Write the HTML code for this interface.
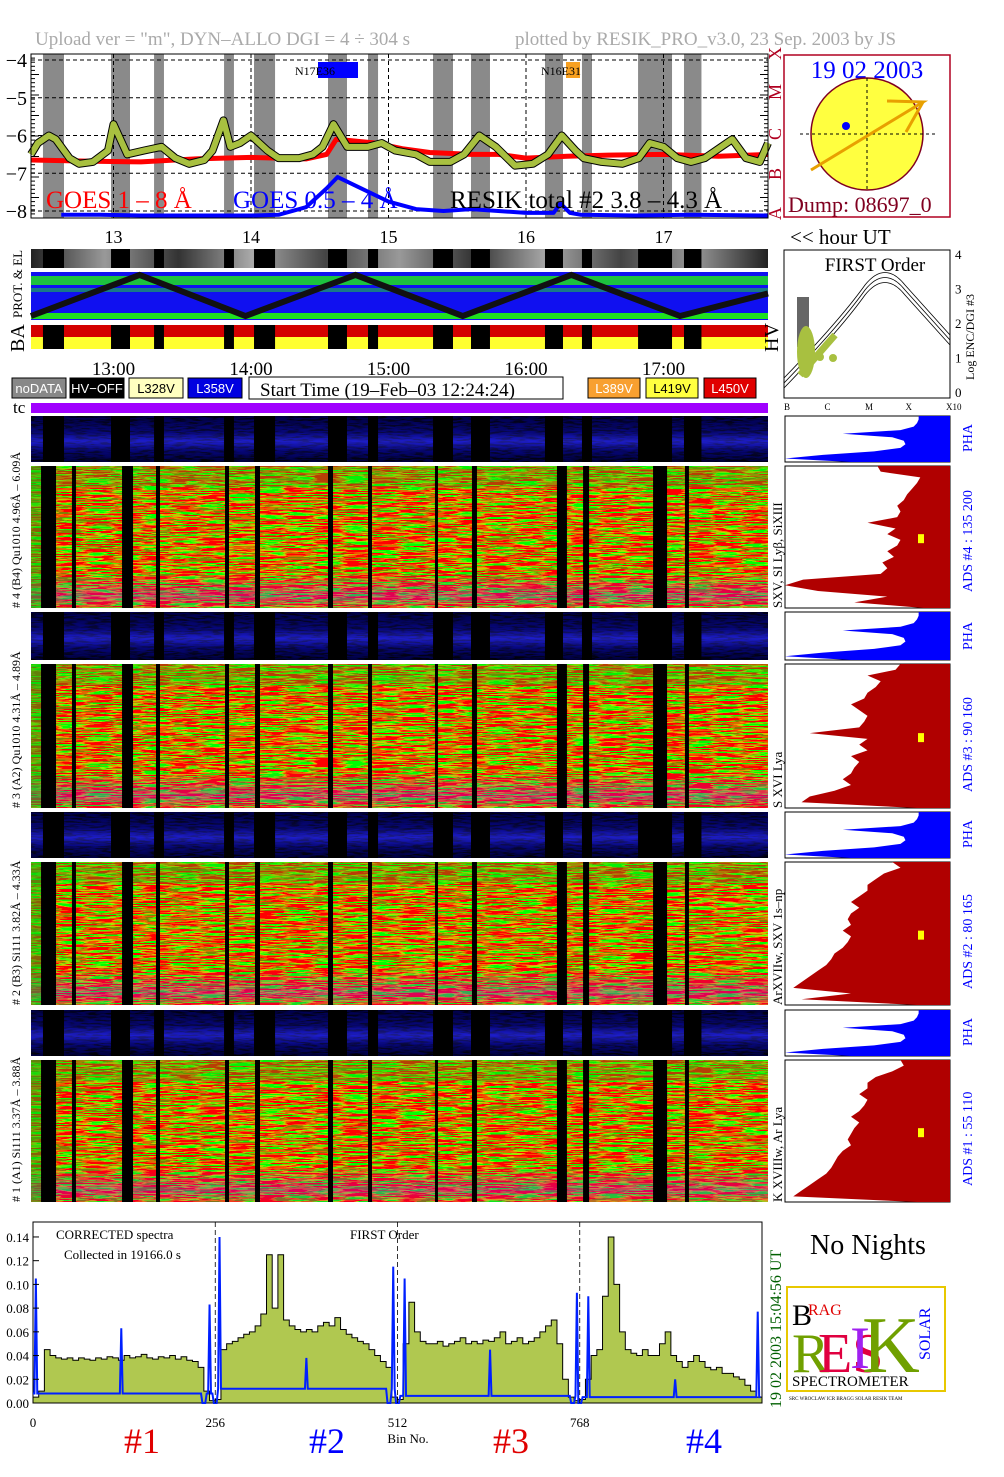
<!DOCTYPE html>
<html><head><meta charset="utf-8"><style>
html,body{margin:0;padding:0;background:#fff}
svg{display:block;font-family:"Liberation Serif",serif}
</style></head><body>
<svg id="s" width="1004" height="1477" viewBox="0 0 1004 1477" xmlns="http://www.w3.org/2000/svg">
<defs>
<filter id="rg" x="0" y="0" width="100%" height="100%">
<feTurbulence type="fractalNoise" baseFrequency="0.035 0.9" numOctaves="2" seed="3"/>
<feColorMatrix type="matrix" values="9 0 0 0 -3.6  -9 0 0 0 4.8  0 0 0 0 0  0 0 0 0 1"/>
</filter>
<filter id="pg" x="0" y="0" width="100%" height="100%">
<feTurbulence type="fractalNoise" baseFrequency="0.08 0.6" numOctaves="2" seed="7"/>
<feColorMatrix type="matrix" values="0 0 0 0 0  0 0 0 0 0  4 0 0 0 -1.6  0 0 0 0 1"/>
</filter>
<linearGradient id="pha" x1="0" y1="0" x2="0" y2="1">
<stop offset="0" stop-color="#000010"/><stop offset="0.35" stop-color="#0a0a50"/><stop offset="0.55" stop-color="#2828c0"/><stop offset="0.75" stop-color="#0a0a50"/><stop offset="1" stop-color="#000"/>
</linearGradient>
<linearGradient id="purp" x1="0" y1="0" x2="0" y2="1">
<stop offset="0" stop-color="#a000ff" stop-opacity="0"/><stop offset="0.75" stop-color="#a000ff" stop-opacity="0"/><stop offset="0.92" stop-color="#a000ff" stop-opacity="0.35"/><stop offset="1" stop-color="#a000ff" stop-opacity="0.1"/>
</linearGradient>
<linearGradient id="gstrip" x1="0" y1="0" x2="1" y2="0">
<stop offset="0" stop-color="#222"/><stop offset="0.1" stop-color="#999"/><stop offset="0.2" stop-color="#333"/><stop offset="0.3" stop-color="#aaa"/><stop offset="0.4" stop-color="#444"/><stop offset="0.5" stop-color="#999"/><stop offset="0.6" stop-color="#333"/><stop offset="0.7" stop-color="#aaa"/><stop offset="0.8" stop-color="#444"/><stop offset="0.9" stop-color="#999"/><stop offset="1" stop-color="#222"/>
</linearGradient>
</defs>

<text x="35" y="45" font-size="19" fill="#aaa">Upload ver = "m", DYN–ALLO DGI =   4 ÷ 304 s</text>
<text x="515" y="45" font-size="19" fill="#aaa">plotted by RESIK_PRO_v3.0, 23 Sep. 2003 by JS</text>

<g id="topg"></g>
<g id="mid"></g>
<g id="heat"></g>
<g id="right"></g>
<g id="bot"></g>
</svg>
<script>
const NS="http://www.w3.org/2000/svg";
function E(p,t,a,txt){const e=document.createElementNS(NS,t);for(const k in a)e.setAttribute(k,a[k]);if(txt!==undefined)e.textContent=txt;p.appendChild(e);return e;}
const topG=document.getElementById('topg'),mid=document.getElementById('mid'),heat=document.getElementById('heat'),rightG=document.getElementById('right'),bot=document.getElementById('bot');

// ---------- TOP PANEL DATA ----------
const nightStart=[12.487,12.982,13.295,13.804,14.022,14.56,14.851,15.324,15.6,16.138,16.407,16.815,17.149];
const nightEnd  =[12.64,13.12,13.367,13.876,14.175,14.698,14.924,15.469,15.738,16.269,16.48,17.062,17.276];
const goesLongT=[12.4,12.8,13.2,13.6,14.0,14.4,14.55,14.62,14.9,15.1,15.3,15.6,15.8,16.0,16.3,16.6,17.0,17.4,17.76];
const goesLongV=[-6.65,-6.68,-6.7,-6.62,-6.58,-6.62,-6.5,-6.1,-6.2,-6.35,-6.45,-6.5,-6.5,-6.6,-6.55,-6.52,-6.5,-6.55,-6.5];
const goesShortT=[12.62,12.9,13.2,13.5,14.0,14.2,14.4,14.55,14.63,14.8,15.0,15.2,15.4,15.6,16.0,16.2,16.25,16.32,16.4,16.8,17.2,17.76];
const goesShortV=[-8.1,-8.1,-8.12,-8.12,-8.12,-8.1,-7.9,-7.4,-7.1,-7.4,-7.75,-7.95,-8.0,-7.95,-8.05,-8.05,-7.8,-8.05,-8.1,-8.12,-8.1,-8.12];
const resikT=[12.4,12.45,12.53,12.58,12.68,12.75,12.85,12.96,13.0,13.1,13.22,13.35,13.45,13.55,13.66,13.72,13.8,13.85,13.92,14.0,14.12,14.2,14.35,14.45,14.52,14.6,14.7,14.85,14.95,15.05,15.2,15.3,15.45,15.55,15.66,15.78,15.92,16.05,16.16,16.26,16.36,16.42,16.55,16.7,16.82,16.9,17.0,17.1,17.2,17.3,17.42,17.5,17.6,17.7,17.76];
const resikV=[-6.5,-6.2,-6.0,-6.1,-6.6,-6.75,-6.7,-6.4,-5.7,-6.5,-6.4,-6.3,-6.6,-6.75,-6.65,-6.4,-5.6,-6.3,-6.2,-6.0,-6.4,-6.6,-6.6,-6.5,-6.3,-5.7,-6.3,-6.3,-6.2,-6.4,-6.5,-6.7,-6.7,-6.5,-6.0,-6.3,-6.8,-6.75,-6.5,-6.0,-6.4,-6.6,-6.7,-6.75,-6.6,-6.2,-6.3,-6.6,-6.7,-6.6,-6.3,-6.1,-6.6,-6.7,-6.2];
const decTicks=[-4,-5,-6,-7,-8];
const hourTicks=[13,14,15,16,17];

const X0=31,X1=768;
const xT=h=>X0+(h-12.4)*137.5;
const yT=v=>60+(-4-v)*37.75;
{
 E(topG,'rect',{x:X0,y:54,width:X1-X0,height:164,fill:'#fff'});
 for(let i=0;i<nightStart.length;i++){
  const b=E(topG,'rect',{x:xT(nightStart[i]),y:54,width:xT(nightEnd[i])-xT(nightStart[i]),height:164,fill:'#8a8a8a'});
  
  
 }
 decTicks.forEach(v=>{
  E(topG,'line',{x1:X0,x2:X1,y1:yT(v),y2:yT(v),stroke:'#000','stroke-dasharray':'4,3','stroke-width':1});
  const t=E(topG,'text',{x:27,y:yT(v)+7,'font-size':20,'text-anchor':'end'},'−'+Math.abs(v));
  
  
 });
 hourTicks.forEach(h=>{
  E(topG,'line',{x1:xT(h),x2:xT(h),y1:54,y2:218,stroke:'#000','stroke-dasharray':'4,3'});
  const t=E(topG,'text',{x:xT(h),y:243,'font-size':18,'text-anchor':'middle'},String(h));
  
  
 });
 for(let i=0;i<40;i++){E(topG,'line',{x1:X0,x2:X0+(i%5?4:8),y1:54+i*4.1,y2:54+i*4.1,stroke:'#000'});E(topG,'line',{x1:X1,x2:X1-(i%5?4:8),y1:54+i*4.1,y2:54+i*4.1,stroke:'#000'});}
 const line=(T,V,c,w,n)=>{const p=E(topG,'polyline',{points:T.map((t,i)=>xT(t)+','+yT(V[i])).join(' '),fill:'none',stroke:c,'stroke-width':w,'stroke-linejoin':'round'});
  
  };
 line(goesLongT,goesLongV,'#f00',5,'goes-1-8-line');
 line(goesShortT,goesShortV,'#0000ff',4,'goes-05-4-line');
 line(resikT,resikV,'#000',8,'resik-outline');
 line(resikT,resikV,'#a8c040',6,'resik-total-line');
 E(topG,'rect',{x:X0,y:54,width:X1-X0,height:164,fill:'none',stroke:'#000'});
 E(topG,'rect',{x:318,y:62,width:40,height:16,fill:'#0000ff'});
 E(topG,'text',{x:295,y:75,'font-size':12},'N17E36');
 E(topG,'rect',{x:566,y:62,width:14,height:16,fill:'#f8a020'});
 E(topG,'text',{x:541,y:75,'font-size':12},'N16E31');
 let t1=E(topG,'text',{x:46,y:208,'font-size':25,fill:'#f00'},'GOES 1 – 8 Å');
 
 let t2=E(topG,'text',{x:233,y:208,'font-size':25,fill:'#0000ff'},'GOES 0.5 – 4 Å');
 
 let t3=E(topG,'text',{x:450,y:208,'font-size':25},'RESIK total #2  3.8 – 4.3 Å');
 
 E(topG,'text',{x:790,y:244,'font-size':21},'<< hour UT');
}

// ---------- MID STRIPS ----------
const zigT=[12.4,13.19,13.96,14.76,15.54,16.33,17.12,17.76];
const zigLevel=[0,1,0,1,0,1,0,0.55];
{
 E(mid,'rect',{x:X0,y:249,width:X1-X0,height:19,fill:'url(#gstrip)'});
 for(let i=0;i<nightStart.length;i++)E(mid,'rect',{x:xT(nightStart[i]),y:249,width:xT(nightEnd[i])-xT(nightStart[i]),height:19,fill:'#000'});
 E(mid,'rect',{x:X0,y:272,width:X1-X0,height:48,fill:'#1010f0'});
 E(mid,'rect',{x:X0,y:276,width:X1-X0,height:9,fill:'#20e020',opacity:0.85});
 E(mid,'rect',{x:X0,y:288,width:X1-X0,height:4,fill:'#20e020',opacity:0.5});
 E(mid,'rect',{x:X0,y:313,width:X1-X0,height:6,fill:'#20e020'});
 E(mid,'polyline',{points:zigT.map((t,i)=>xT(t)+','+(316-zigLevel[i]*41)).join(' '),fill:'none',stroke:'#111','stroke-width':6});
 E(mid,'text',{x:22,y:318,'font-size':13,transform:'rotate(-90 22 318)'},'PROT. & EL');
 E(mid,'rect',{x:X0,y:325,width:X1-X0,height:12,fill:'#d40000'});
 E(mid,'rect',{x:X0,y:337,width:X1-X0,height:12,fill:'#ffff30'});
 for(let i=0;i<nightStart.length;i++)E(mid,'rect',{x:xT(nightStart[i]),y:325,width:xT(nightEnd[i])-xT(nightStart[i]),height:24,fill:'#000'});
 E(mid,'text',{x:24,y:352,'font-size':20,transform:'rotate(-90 24 352)'},'BA');
 E(mid,'text',{x:778,y:352,'font-size':20,transform:'rotate(-90 778 352)'},'HV');
 ['13:00','14:00','15:00','16:00','17:00'].forEach((s,i)=>E(mid,'text',{x:xT(13+i),y:375,'font-size':19,'text-anchor':'middle'},s));
 const leg=[[12,'#888','#fff','noDATA',54],[70,'#000','#fff','HV−OFF',54],[129,'#ffffc0','#000','L328V',54],[188,'#0000e0','#fff','L358V',54],[588,'#f8a030','#fff','L389V',52],[646,'#ffff40','#000','L419V',52],[704,'#e00000','#fff','L450V',52]];
 leg.forEach(l=>{const r=E(mid,'rect',{x:l[0],y:378,width:l[4],height:20,fill:l[1],stroke:'#000'});
  
  
  E(mid,'text',{x:l[0]+l[4]/2,y:393,'font-size':13,'text-anchor':'middle',fill:l[2],'font-family':'Liberation Sans, sans-serif'},l[3]);});
 E(mid,'rect',{x:249,y:377,width:314,height:22,fill:'#fff',stroke:'#000'});
 E(mid,'text',{x:260,y:396,'font-size':19},'Start Time (19–Feb–03 12:24:24)');
 E(mid,'text',{x:13,y:413,'font-size':17},'tc');
 E(mid,'rect',{x:X0,y:403,width:X1-X0,height:10,fill:'#a000ff'});
}

// ---------- HEATMAP PANELS ----------
const panels=[
 {pha:[416,462],ads:[466,608],left:'# 4 (B4) Qu1010 4.96Å – 6.09Å',line:'SXV, SI Lyβ, SiXIII',ads_l:'ADS #4 :   135 200'},
 {pha:[612,660],ads:[664,808],left:'# 3 (A2) Qu1010 4.31Å – 4.89Å',line:'S XVI Lya',ads_l:'ADS #3 :   90 160'},
 {pha:[812,858],ads:[862,1005],left:'# 2 (B3) Si111 3.82Å – 4.33Å',line:'ArXVIIw, SXV 1s–np',ads_l:'ADS #2 :   80 165'},
 {pha:[1010,1056],ads:[1060,1202],left:'# 1 (A1) Si111 3.37Å – 3.88Å',line:'K XVIIIw, Ar Lya',ads_l:'ADS #1 :   55 110'}];
const blackCols=[12.473,12.698,13.062,13.309,13.811,14.029,14.56,14.851,15.338,15.607,16.225,16.415,16.924,17.156];
const blackW=[15,4,11,4,4,5,5,4,3,5,10,6,14,4];
const phaHist=[0.19,0.19,0.2,0.22,0.3,0.65,0.35,0.28,0.27,0.3,0.46,0.77,1.0,0.6];
const adsHist=[
 [0.44,0.42,0.18,0.2,0.23,0.26,0.28,0.32,0.3,0.32,0.5,0.33,0.38,0.3,0.32,0.38,0.34,0.41,0.38,0.42,0.89,1.0,0.8,0.38,0.58,0.16],
 [0.3,0.33,0.5,0.42,0.45,0.5,0.52,0.6,0.55,0.5,0.52,0.55,0.85,0.5,0.55,0.5,0.6,0.55,0.58,0.6,0.65,0.6,0.7,0.85,0.9,0.2],
 [0.35,0.3,0.4,0.45,0.5,0.5,0.55,0.6,0.55,0.6,0.62,0.6,0.65,0.6,0.62,0.65,0.7,0.72,0.75,0.8,0.85,0.9,0.95,0.6,0.9,0.2],
 [0.3,0.28,0.35,0.45,0.5,0.5,0.55,0.5,0.52,0.55,0.6,0.55,0.58,0.6,0.62,0.6,0.65,0.68,0.7,0.72,0.75,0.8,0.85,0.9,0.95,0.2]];
const HX0=785,HX1=950;
panels.forEach((p,k)=>{
 const g=E(heat,'g',{});
 
 
 const ph=p.pha[1]-p.pha[0],ahh=p.ads[1]-p.ads[0];
 E(g,'rect',{x:X0,y:p.pha[0],width:X1-X0,height:ph,fill:'url(#pha)'});
 E(g,'rect',{x:X0,y:p.pha[0],width:X1-X0,height:ph,fill:'#000',filter:'url(#pg)',opacity:0.25});
 for(let i=0;i<nightStart.length;i++)E(g,'rect',{x:xT(nightStart[i]),y:p.pha[0],width:xT(nightEnd[i])-xT(nightStart[i]),height:ph,fill:'#000'});
 E(g,'rect',{x:X0,y:p.ads[0],width:X1-X0,height:ahh,fill:'#000',filter:'url(#rg)'});
 E(g,'rect',{x:X0,y:p.ads[0],width:X1-X0,height:ahh,fill:'url(#purp)'});
 E(g,'rect',{x:X0,y:p.ads[0],width:X1-X0,height:ahh*0.15,fill:'#10d010',opacity:0.3});
 E(g,'rect',{x:X0,y:p.ads[0],width:10,height:ahh,fill:'#10c010',opacity:0.5});
 blackCols.forEach((c,i)=>{E(g,'rect',{x:xT(c),y:p.ads[0],width:blackW[i],height:ahh,fill:'#000'});});
 E(g,'text',{x:20,y:p.ads[1],'font-size':12,transform:`rotate(-90 20 ${p.ads[1]})`},p.left);
 E(g,'text',{x:782,y:p.ads[1],'font-size':13,transform:`rotate(-90 782 ${p.ads[1]})`},p.line);
 E(g,'rect',{x:HX0,y:p.pha[0],width:HX1-HX0,height:ph,fill:'#fff',stroke:'#000'});
 const pts=[HX1+','+p.pha[0]];
 phaHist.forEach((f,i)=>pts.push((HX1-(HX1-HX0)*f)+','+(p.pha[0]+ph*i/(phaHist.length-1))));
 pts.push(HX1+','+p.pha[1]);
 const pp=E(g,'polygon',{points:pts.join(' '),fill:'#0000ff'});
 
 
 E(g,'text',{x:972,y:p.pha[1]-10,'font-size':14,fill:'#0000ff',transform:`rotate(-90 972 ${p.pha[1]-10})`},'PHA');
 E(g,'rect',{x:HX0,y:p.ads[0],width:HX1-HX0,height:ahh,fill:'#fff',stroke:'#000'});
 const A=adsHist[k];
 const ap=[HX1+','+p.ads[0]];
 A.forEach((f,i)=>{const y=p.ads[0]+ahh*i/(A.length-1);ap.push((HX1-(HX1-HX0)*f)+','+y);});
 ap.push(HX1+','+p.ads[1]);
 const ae=E(g,'polygon',{points:ap.join(' '),fill:'#b00000'});
 
 
 E(g,'rect',{x:918,y:p.ads[0]+ahh*0.48,width:6,height:9,fill:'#ffff00'});
 E(g,'text',{x:972,y:p.ads[1]-16,'font-size':14,fill:'#0000ff',transform:`rotate(-90 972 ${p.ads[1]-16})`},p.ads_l);
});

// ---------- RIGHT TOP ----------
{
 E(rightG,'rect',{x:784,y:55,width:166,height:162,fill:'#fff',stroke:'#b00020','stroke-width':1.5});
 E(rightG,'text',{x:867,y:78,'font-size':25,fill:'#0000ff','text-anchor':'middle'},'19 02 2003');
 E(rightG,'circle',{cx:867,cy:134,r:56,fill:'#ffff40',stroke:'#800020','stroke-width':1.5});
 E(rightG,'line',{x1:800,x2:935,y1:134,y2:134,stroke:'#000','stroke-dasharray':'3,3'});
 E(rightG,'line',{x1:867,x2:867,y1:78,y2:190,stroke:'#000','stroke-dasharray':'3,3'});
 E(rightG,'circle',{cx:846,cy:126,r:4,fill:'#0000ff'});
 E(rightG,'polyline',{points:'811,170 923,102 887,101',fill:'none',stroke:'#e8a000','stroke-width':3});
 E(rightG,'line',{x1:923,x2:906,y1:102,y2:132,stroke:'#e8a000','stroke-width':3});
 E(rightG,'text',{x:788,y:212,'font-size':22,fill:'#800020'},'Dump: 08697_0');
 ['X','M','C','B','A'].forEach((s,i)=>E(rightG,'text',{x:781,y:60+i*40,'font-size':18,fill:'#b00020',transform:`rotate(-90 781 ${60+i*40})`},s));
 E(rightG,'rect',{x:784,y:250,width:166,height:148,fill:'#fff',stroke:'#000'});
 E(rightG,'text',{x:875,y:271,'font-size':19,'text-anchor':'middle'},'FIRST Order');
 ['0','1','2','3','4'].forEach((s,i)=>E(rightG,'text',{x:955,y:397-i*34.5,'font-size':13},s));
 ['B','C','M','X','X10'].forEach((s,i)=>E(rightG,'text',{x:784+i*40.5,y:410,'font-size':9},s));
 E(rightG,'text',{x:974,y:380,'font-size':12,transform:'rotate(-90 974 380)'},'Log ENC/DGI #3');
 [0,5,10].forEach(d=>E(rightG,'path',{d:`M784,${388-d} Q840,${330-d} 865,${295-d} Q885,${270-d} 905,${295-d} L950,${345-d}`,fill:'none',stroke:'#000','stroke-width':0.8}));
 E(rightG,'rect',{x:797,y:297,width:12,height:50,fill:'#000',opacity:0.6});
 E(rightG,'ellipse',{cx:806,cy:352,rx:9,ry:26,fill:'#a8c040'});
 E(rightG,'line',{x1:800,x2:835,y1:375,y2:335,stroke:'#a8c040','stroke-width':7});
 E(rightG,'circle',{cx:820,cy:357,r:4,fill:'#a8c040'});
 E(rightG,'circle',{cx:833,cy:358,r:4,fill:'#a8c040'});
}

// ---------- BOTTOM SPECTRUM ----------
const binTicks=[0,256,512,768];
const specTicks=[0,0.02,0.04,0.06,0.08,0.10,0.12,0.14];
const greenSpec=[
 0.005,0.01,0.045,0.04,0.038,0.037,0.038,0.036,0.038,0.037,0.036,0.038,0.037,0.039,0.038,0.036,0.04,0.038,0.039,0.041,0.038,0.037,0.039,0.038,0.04,0.037,0.039,0.036,0.035,0.03,0.01,0.002,
 0.003,0.045,0.05,0.052,0.055,0.058,0.06,0.065,0.075,0.125,0.08,0.125,0.07,0.065,0.062,0.06,0.062,0.06,0.065,0.068,0.065,0.072,0.062,0.058,0.055,0.052,0.05,0.045,0.04,0.035,0.03,0.005,
 0.003,0.05,0.085,0.06,0.052,0.05,0.05,0.052,0.048,0.05,0.052,0.055,0.05,0.052,0.05,0.053,0.052,0.055,0.06,0.05,0.052,0.055,0.05,0.052,0.055,0.06,0.065,0.07,0.05,0.02,0.005,0.002,
 0.003,0.02,0.04,0.045,0.09,0.14,0.1,0.06,0.045,0.042,0.04,0.045,0.04,0.04,0.05,0.06,0.04,0.035,0.03,0.035,0.04,0.035,0.03,0.028,0.03,0.025,0.025,0.022,0.02,0.015,0.01,0.005];
const blueBase=[0.008,0.012,0.006,0.005];
const blueSpikeBin=[4,124,248,262,384,506,522,642,764,780,902,1018];
const blueSpikeVal=[0.105,0.063,0.083,0.14,0.038,0.115,0.105,0.045,0.093,0.09,0.02,0.077];
const blueZeroBin=[240,256,500,512,758,768];
{
 const BX0=33,BX1=762,BY0=1403,BY1=1222;
 const xB=b=>BX0+b*(BX1-BX0)/1024;
 const yB=v=>BY0-v*1186;
 E(bot,'rect',{x:BX0,y:BY1,width:BX1-BX0,height:BY0-BY1,fill:'#fff',stroke:'#000'});
 const n=greenSpec.length,step=1024/n;
 const gp=[xB(0)+','+yB(0)];greenSpec.forEach((v,i)=>{gp.push(xB(i*step)+','+yB(v));gp.push(xB(i*step+step)+','+yB(v));});gp.push(xB(1024)+','+yB(0));
 const ge=E(bot,'polygon',{points:gp.join(' '),fill:'#b0c850',stroke:'#000','stroke-width':1});
 
 
 const bp=[];
 for(let b=0;b<1024;b+=2){
  let v=blueBase[Math.floor(b/256)];
  const si=blueSpikeBin.findIndex(s=>Math.abs(s-b)<2);
  if(si>=0)v=blueSpikeVal[si];
  if(blueZeroBin.some(z=>Math.abs(z-b)<3))v=0;
  bp.push(xB(b)+','+yB(v));
 }
 const be=E(bot,'polyline',{points:bp.join(' '),fill:'none',stroke:'#0020ff','stroke-width':2});
 
 
 [256,512,768].forEach(b=>E(bot,'line',{x1:xB(b),x2:xB(b),y1:BY1,y2:BY0,stroke:'#000','stroke-dasharray':'5,3','stroke-width':0.8}));
 specTicks.forEach(v=>{E(bot,'line',{x1:BX0,x2:BX0+6,y1:yB(v),y2:yB(v),stroke:'#000'});
  const t=E(bot,'text',{x:29,y:yB(v)+5,'font-size':13,'text-anchor':'end'},v.toFixed(2));
  
  });
 binTicks.forEach(b=>{const t=E(bot,'text',{x:xB(b),y:1427,'font-size':13,'text-anchor':'middle'},String(b));
  
  });
 E(bot,'text',{x:408,y:1443,'font-size':13,'text-anchor':'middle'},'Bin No.');
 E(bot,'text',{x:56,y:1239,'font-size':13},'CORRECTED spectra');
 E(bot,'text',{x:64,y:1259,'font-size':13},'Collected in 19166.0 s');
 E(bot,'text',{x:350,y:1239,'font-size':13},'FIRST Order');
 [['#1',142,'#e00000'],['#2',327,'#0000ff'],['#3',511,'#e00000'],['#4',704,'#0000ff']].forEach(a=>{const t=E(bot,'text',{x:a[1],y:1453,'font-size':36,fill:a[2],'text-anchor':'middle'},a[0]);
  
  });
 E(bot,'text',{x:781,y:1408,'font-size':16,fill:'#006000',transform:'rotate(-90 781 1408)'},'19 02 2003    15:04:56 UT');
 E(bot,'text',{x:868,y:1254,'font-size':28,'text-anchor':'middle'},'No Nights');
 E(bot,'rect',{x:787,y:1287,width:158,height:104,fill:'#fff',stroke:'#e8c800','stroke-width':2});
 E(bot,'text',{x:792,y:1325,'font-size':30},'B');
 E(bot,'text',{x:808,y:1315,'font-size':16,fill:'#e00000'},'RAG');
 E(bot,'text',{x:792,y:1372,'font-size':56,fill:'#70a000'},'R');
 E(bot,'text',{x:818,y:1372,'font-size':56,fill:'#e00040'},'ES');
 E(bot,'text',{x:850,y:1368,'font-size':60,fill:'#a020f0'},'I');
 E(bot,'text',{x:862,y:1372,'font-size':80,fill:'#70a000'},'K');
 E(bot,'text',{x:930,y:1360,'font-size':16,fill:'#0000ff',transform:'rotate(-90 930 1360)'},'SOLAR');
 E(bot,'text',{x:792,y:1386,'font-size':15},'SPECTROMETER');
 E(bot,'text',{x:789,y:1400,'font-size':5},'SRC WROCLAW ICR BRAGG SOLAR RESIK TEAM');
}
</script>
</body></html>
